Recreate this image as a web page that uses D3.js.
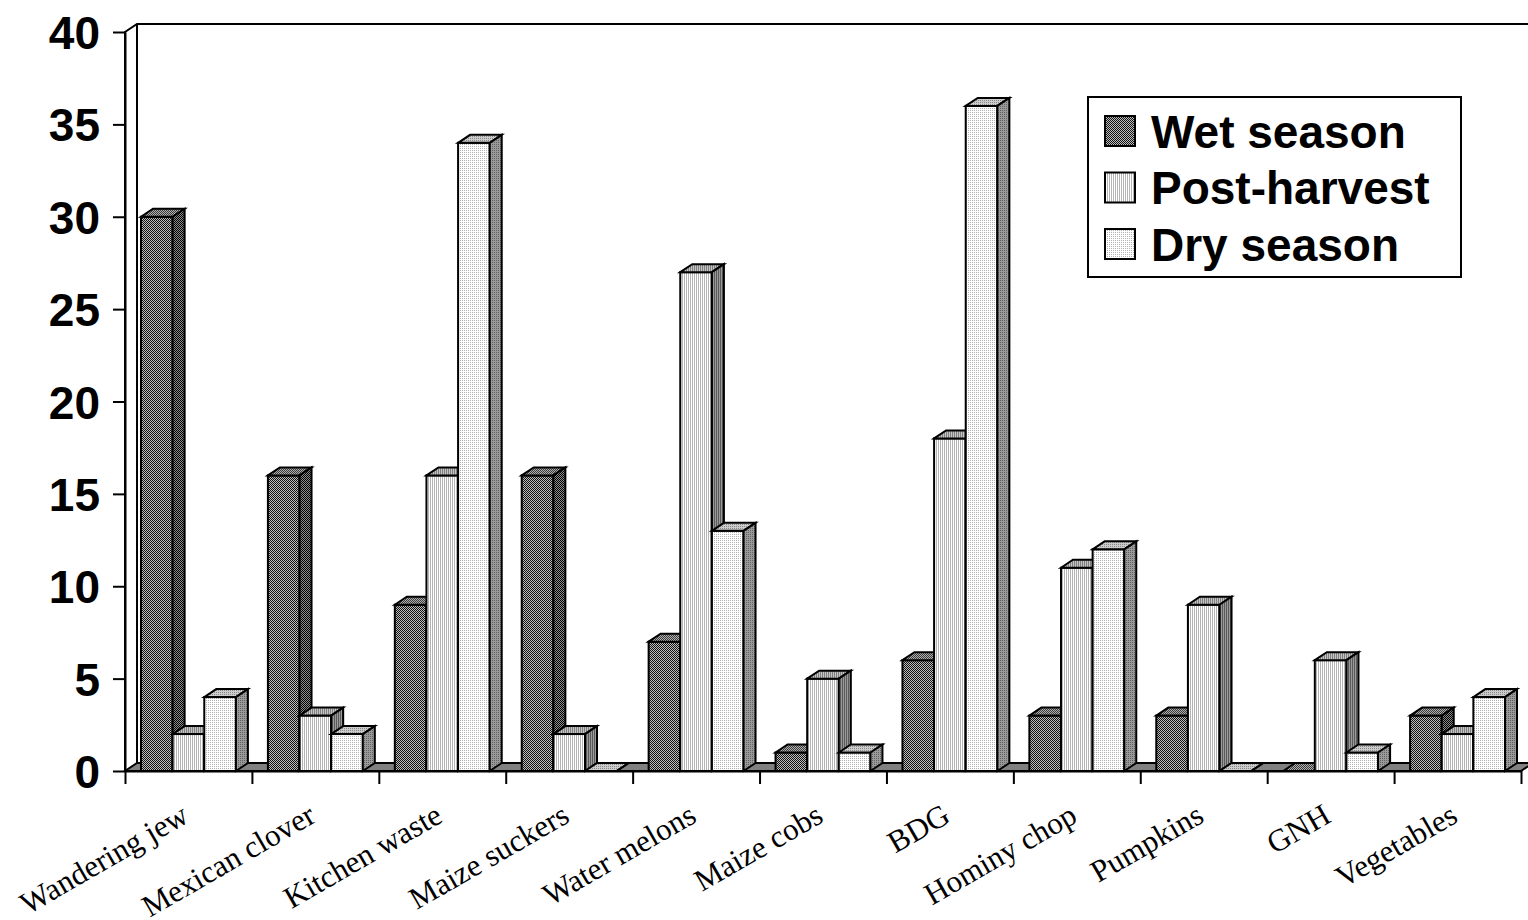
<!DOCTYPE html>
<html lang="en">
<head>
  <meta charset="UTF-8">
  <title>Feed use by season</title>
  <script src="https://cdn.jsdelivr.net/npm/d3@7"></script>
  <style>
    body { margin: 0; background: #fff; }
    svg { display: block; }
    .ylab text { font-family: "Liberation Sans", Arial, sans-serif; font-weight: bold; font-size: 46px; fill: #000; }
    .xlab { font-family: "Liberation Serif", "Times New Roman", serif; font-size: 31px; fill: #000; }
    .legend text { font-family: "Liberation Sans", Arial, sans-serif; font-weight: bold; font-size: 46px; fill: #000; }
  </style>
</head>
<body>
<script>
  const categories = ["Wandering jew", "Mexican clover", "Kitchen waste", "Maize suckers", "Water melons",
                      "Maize cobs", "BDG", "Hominy chop", "Pumpkins", "GNH", "Vegetables"];
  const series = ["Wet season", "Post-harvest", "Dry season"];
  const wetSeason   = [30, 16, 9, 16, 7, 1, 6, 3, 3, 0, 3];
  const postHarvest = [2, 3, 16, 2, 27, 5, 18, 11, 9, 6, 2];
  const drySeason   = [4, 2, 34, 0, 13, 1, 36, 12, 0, 1, 4];
  const yTicks = [0, 5, 10, 15, 20, 25, 30, 35, 40];

  const values = [wetSeason, postHarvest, drySeason];

  const w = 1528, h = 920;
  const pLeft = 125, pRight = 1521, pTop = 32, pBottom = 771;
  const DX = 12, DY = 8;   // 3d depth offset

  const svg = d3.select("body").append("svg").attr("width", w).attr("height", h);
  const defs = svg.append("defs");

  // little pixel patterns, like the old excel fills
  function pattern(id, size, bg, fg, pixels) {
    const p = defs.append("pattern").attr("id", id)
      .attr("width", size[0]).attr("height", size[1])
      .attr("patternUnits", "userSpaceOnUse");
    p.append("rect").attr("width", size[0]).attr("height", size[1]).attr("fill", bg);
    pixels.forEach(px => p.append("rect").attr("x", px[0]).attr("y", px[1])
      .attr("width", px[2] || 1).attr("height", px[3] || 1).attr("fill", fg));
  }
  const checker = [[0, 0], [1, 1]];
  const stripe = [[0, 0, 1, 2]];
  const dot = [[0, 0]];
  pattern("p0-front", [2, 2], "#bcbcbc", "#141414", checker);
  pattern("p0-top",   [2, 2], "#b0b0b0", "#3a3a3a", checker);
  pattern("p0-side",  [2, 2], "#8c8c8c", "#000", checker);
  pattern("p1-front", [2, 2], "#ffffff", "#b4b4b4", stripe);
  pattern("p1-top",   [2, 2], "#c4c4c4", "#808080", stripe);
  pattern("p1-side",  [2, 2], "#9a9a9a", "#5a5a5a", stripe);
  pattern("p2-front", [2, 2], "#ffffff", "#b0b0b0", dot);
  pattern("p2-top",   [2, 2], "#cccccc", "#888888", dot);
  pattern("p2-side",  [2, 2], "#9a9a9a", "#606060", dot);

  const x = d3.scaleBand().domain(categories).range([pLeft, pRight]).padding(0);
  const xs = d3.scaleBand().domain(series).range([16, x.bandwidth() - 16]);
  const y = d3.scaleLinear().domain([0, 40]).range([pBottom, pTop]);

  // walls
  svg.append("path")
    .attr("d", `M${pLeft},${pBottom} L${pLeft},${pTop} L${pLeft + DX},${pTop - DY} L${w + 10},${pTop - DY}`)
    .attr("fill", "none").attr("stroke", "#000").attr("stroke-width", 2);
  svg.append("line")
    .attr("x1", pLeft + DX).attr("y1", pTop - DY).attr("x2", pLeft + DX).attr("y2", pBottom - DY)
    .attr("stroke", "#000").attr("stroke-width", 2);

  // floor
  svg.append("path")
    .attr("d", `M${pLeft},${pBottom} L${pRight},${pBottom} L${pRight + DX},${pBottom - DY} L${pLeft + DX},${pBottom - DY} Z`)
    .attr("fill", "#808080").attr("stroke", "#000").attr("stroke-width", 2);

  // bars, left to right so the later ones hide the side faces
  const bars = [];
  categories.forEach((c, i) => {
    series.forEach((s, j) => bars.push({ c, s, j, v: values[j][i] }));
  });

  const g = svg.append("g").attr("stroke", "#000").attr("stroke-width", 2).attr("stroke-linejoin", "miter");
  const bar = g.selectAll("g.bar").data(bars).enter().append("g").attr("class", "bar");
  const bw = xs.bandwidth();
  bar.append("rect")
    .attr("x", d => x(d.c) + xs(d.s))
    .attr("y", d => y(d.v))
    .attr("width", bw)
    .attr("height", d => pBottom - y(d.v))
    .attr("fill", d => `url(#p${d.j}-front)`);
  bar.append("path")
    .attr("d", d => {
      const x0 = x(d.c) + xs(d.s), y0 = y(d.v);
      return `M${x0},${y0} L${x0 + DX},${y0 - DY} L${x0 + bw + DX},${y0 - DY} L${x0 + bw},${y0} Z`;
    })
    .attr("fill", d => `url(#p${d.j}-top)`);
  bar.append("path")
    .attr("d", d => {
      const x1 = x(d.c) + xs(d.s) + bw, y0 = y(d.v);
      return `M${x1},${y0} L${x1 + DX},${y0 - DY} L${x1 + DX},${pBottom - DY} L${x1},${pBottom} Z`;
    })
    .attr("fill", d => `url(#p${d.j}-side)`);

  // y axis
  const yAxis = d3.axisLeft(y).tickValues(yTicks).tickSize(12).tickSizeOuter(0).tickPadding(13);
  const ya = svg.append("g").attr("class", "ylab").attr("transform", `translate(${pLeft},0)`).call(yAxis);
  ya.selectAll("path, line").attr("stroke", "#000").attr("stroke-width", 2);
  ya.selectAll("text").attr("dy", "0.36em");

  // x axis: ticks on the category boundaries
  const xi = d3.scaleLinear().domain([0, categories.length]).range([pLeft, pRight]);
  const xAxis = d3.axisBottom(xi).tickValues(d3.range(categories.length + 1)).tickFormat("").tickSize(13).tickSizeOuter(0);
  const xa = svg.append("g").attr("transform", `translate(0,${pBottom})`).call(xAxis);
  xa.selectAll("path, line").attr("stroke", "#000").attr("stroke-width", 2);

  svg.append("g").selectAll("text").data(categories).enter().append("text")
    .attr("class", "xlab")
    .attr("text-anchor", "end")
    .attr("transform", d => `translate(${x(d) + x.bandwidth() / 2 + 2},821) rotate(-30)`)
    .text(d => d);

  // legend
  const lg = svg.append("g").attr("class", "legend");
  lg.append("rect").attr("x", 1088).attr("y", 97).attr("width", 373).attr("height", 180)
    .attr("fill", "#fff").attr("stroke", "#000").attr("stroke-width", 2);
  const item = lg.selectAll("g.item").data(series).enter().append("g")
    .attr("transform", (d, i) => `translate(1105,${131 + i * 56.5})`);
  item.append("rect").attr("x", 0).attr("y", -15).attr("width", 30).attr("height", 30)
    .attr("fill", (d, i) => `url(#p${i}-front)`).attr("stroke", "#000").attr("stroke-width", 2);
  item.append("text").attr("x", 46).attr("dy", "0.36em").text(d => d);
</script>
</body>
</html>
